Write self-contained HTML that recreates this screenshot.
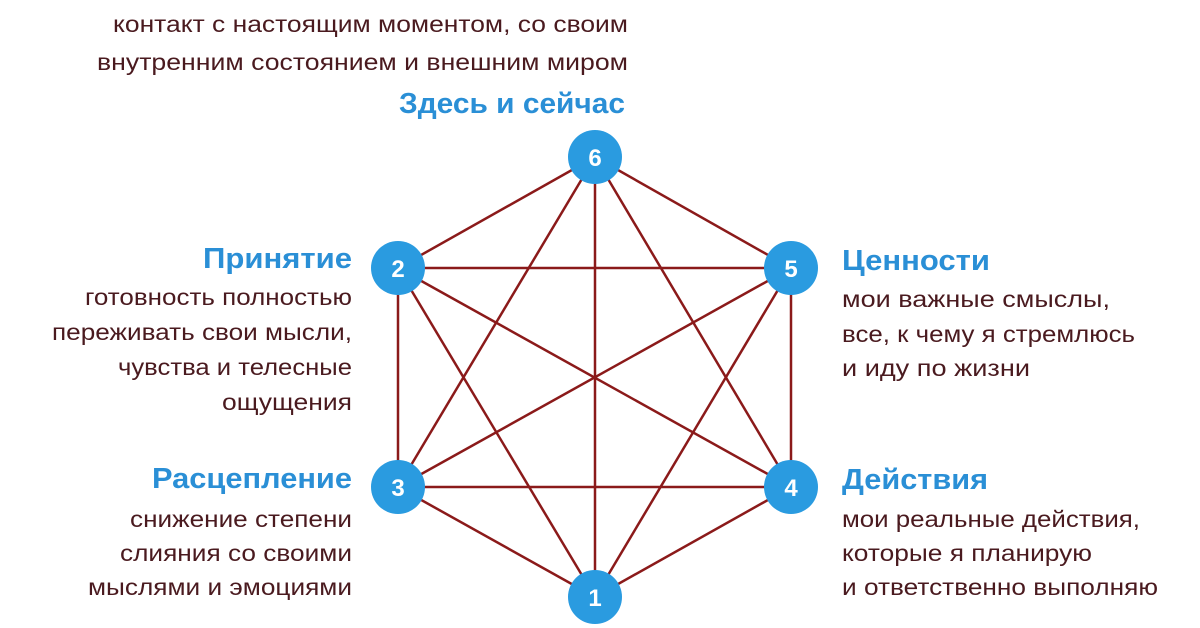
<!DOCTYPE html>
<html><head><meta charset="utf-8"><style>
html,body{margin:0;padding:0;background:#fff;width:1200px;height:628px;overflow:hidden}
svg{display:block}
.b{font-family:"Liberation Sans","DejaVu Sans",sans-serif;font-size:23px;fill:#4a1a1f}
.h{font-family:"Liberation Sans","DejaVu Sans",sans-serif;font-size:29px;font-weight:bold;fill:#2a8fd6}
.n{font-family:"Liberation Sans",sans-serif;font-size:24px;font-weight:bold;fill:#fff}
</style></head><body>
<svg width="1200" height="628" viewBox="0 0 1200 628" xmlns="http://www.w3.org/2000/svg">
<g stroke="#8b1a1a" stroke-width="2.5">
<line x1="595" y1="157" x2="398" y2="268"/>
<line x1="595" y1="157" x2="791" y2="268"/>
<line x1="595" y1="157" x2="398" y2="487"/>
<line x1="595" y1="157" x2="791" y2="487"/>
<line x1="595" y1="157" x2="595" y2="597"/>
<line x1="398" y1="268" x2="791" y2="268"/>
<line x1="398" y1="268" x2="398" y2="487"/>
<line x1="398" y1="268" x2="791" y2="487"/>
<line x1="398" y1="268" x2="595" y2="597"/>
<line x1="791" y1="268" x2="791" y2="487"/>
<line x1="791" y1="268" x2="398" y2="487"/>
<line x1="791" y1="268" x2="595" y2="597"/>
<line x1="398" y1="487" x2="791" y2="487"/>
<line x1="398" y1="487" x2="595" y2="597"/>
<line x1="791" y1="487" x2="595" y2="597"/>
</g>
<g fill="#2a9be0">
<circle cx="595" cy="157" r="27"/><circle cx="398" cy="268" r="27"/><circle cx="791" cy="268" r="27"/>
<circle cx="398" cy="487" r="27"/><circle cx="791" cy="487" r="27"/><circle cx="595" cy="597" r="27"/>
</g>
<g class="n" text-anchor="middle">
<text x="595" y="166">6</text><text x="398" y="277">2</text><text x="791" y="277">5</text>
<text x="398" y="496">3</text><text x="791" y="496">4</text><text x="595" y="606">1</text>
</g>
<g class="b">
<text x="113" y="32" textLength="515" lengthAdjust="spacingAndGlyphs">контакт с настоящим моментом, со своим</text>
<text x="97" y="70" textLength="531" lengthAdjust="spacingAndGlyphs">внутренним состоянием и внешним миром</text>
<text x="85" y="305" textLength="267" lengthAdjust="spacingAndGlyphs">готовность полностью</text>
<text x="52" y="340" textLength="300" lengthAdjust="spacingAndGlyphs">переживать свои мысли,</text>
<text x="118" y="375" textLength="234" lengthAdjust="spacingAndGlyphs">чувства и телесные</text>
<text x="222" y="410" textLength="130" lengthAdjust="spacingAndGlyphs">ощущения</text>
<text x="130" y="527" textLength="222" lengthAdjust="spacingAndGlyphs">снижение степени</text>
<text x="120" y="561" textLength="232" lengthAdjust="spacingAndGlyphs">слияния со своими</text>
<text x="88" y="595" textLength="264" lengthAdjust="spacingAndGlyphs">мыслями и эмоциями</text>
<text x="842" y="307" textLength="268" lengthAdjust="spacingAndGlyphs">мои важные смыслы,</text>
<text x="842" y="342" textLength="293" lengthAdjust="spacingAndGlyphs">все, к чему я стремлюсь</text>
<text x="842" y="376" textLength="188" lengthAdjust="spacingAndGlyphs">и иду по жизни</text>
<text x="842" y="527" textLength="298" lengthAdjust="spacingAndGlyphs">мои реальные действия,</text>
<text x="842" y="561" textLength="250" lengthAdjust="spacingAndGlyphs">которые я планирую</text>
<text x="842" y="595" textLength="316" lengthAdjust="spacingAndGlyphs">и ответственно выполняю</text>
</g>
<g class="h">
<text x="399" y="113" textLength="226" lengthAdjust="spacingAndGlyphs">Здесь и сейчас</text>
<text x="203" y="268" textLength="149" lengthAdjust="spacingAndGlyphs">Принятие</text>
<text x="152" y="488" textLength="200" lengthAdjust="spacingAndGlyphs">Расцепление</text>
<text x="842" y="270" textLength="148" lengthAdjust="spacingAndGlyphs">Ценности</text>
<text x="842" y="489" textLength="146" lengthAdjust="spacingAndGlyphs">Действия</text>
</g>
</svg>
</body></html>
